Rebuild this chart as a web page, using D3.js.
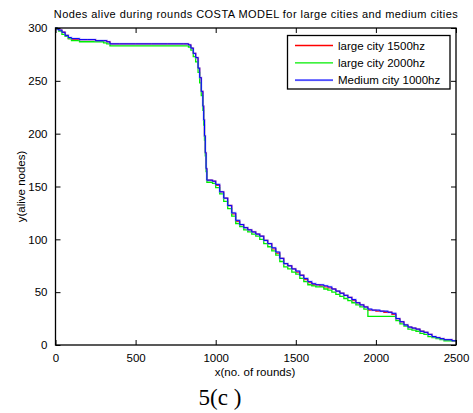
<!DOCTYPE html>
<html><head><meta charset="utf-8">
<script src="https://cdn.jsdelivr.net/npm/d3@7"></script>
<style>body{margin:0;background:#fff}svg{display:block}text{font-family:"Liberation Sans",Arial,sans-serif}</style>
</head><body>
<script>
const rounds = [0,10,20,40,60,80,100,150,200,250,300,320,340,400,500,600,700,800,830,845,860,875,890,900,910,920,925,930,935,940,945,960,980,1000,1025,1050,1075,1100,1125,1150,1175,1200,1225,1250,1275,1300,1325,1350,1375,1400,1425,1450,1475,1500,1525,1550,1575,1600,1625,1650,1675,1700,1725,1750,1775,1800,1825,1850,1875,1900,1925,1950,1975,2000,2025,2050,2075,2100,2125,2150,2175,2200,2225,2250,2275,2300,2325,2350,2375,2400,2425,2450,2475,2500];
const large1500 = [300,299,298,296,293,290,289,289,289,288,288,287,285,285,285,285,285,285,284,281,276,272,262,253,240,226,213,198,182,167,156,156,155,151,145,139,132,124,117,114,111,109,107,105,103,99,96,91,87,82,77,75,72,69,66,62,59,57,57,56,55,54,53,51,49,47,45,42,40,38,36,33,33,32,32,31,31,29,25,22,19,17,16,15,13,12,10,8,7,6,5,5,4,4];
const large2000 = [300,299,297,294,292,290,288,287,287,287,286,285,283,283,283,283,283,283,282,279,273,268,258,248,236,222,208,194,179,164,154,154,153,149,143,136,129,122,115,112,109,107,105,103,100,96,93,89,85,79,74,72,69,67,63,60,57,56,55,55,53,52,50,48,46,44,42,40,38,36,34,27,27,27,27,27,27,27,23,20,18,15,14,13,11,10,8,7,6,5,4,4,4,4];
const medium1000 = [300,299,298,296,293,291,290,289,289,288,288,287,285,285,285,285,285,285,284,281,276,272,262,253,240,226,213,198,182,167,156,156,155,152,145,139,132,125,118,114,111,109,107,105,103,99,96,92,88,82,77,75,72,70,66,63,60,58,57,57,56,55,53,51,49,47,45,43,40,38,36,34,33,33,32,32,31,30,25,22,19,17,16,15,13,12,10,8,7,6,5,5,4,4];
const xTicks = [0,500,1000,1500,2000,2500];
const yTicks = [0,50,100,150,200,250,300];
const seriesNames = ["large city 1500hz","large city 2000hz","Medium city 1000hz"];
const seriesColors = ["#ff0000","#00ee00","#0000ff"];
const titleText = "Nodes alive during rounds COSTA MODEL for large cities and medium cities";
const xLabel = "x(no. of rounds)";
const yLabel = "y(alive nodes)";
const caption = "5(c )";

const W=473,H=413;
const L=55.5,R=456,T=28,B=345;
const svg=d3.select("body").append("svg").attr("width",W).attr("height",H);
const x=d3.scaleLinear().domain([0,2500]).range([L,R]);
const y=d3.scaleLinear().domain([0,300]).range([B,T]);

const series=[large1500,large2000,medium1000];
const line=d3.line().x((d,i)=>x(rounds[i])).y(d=>y(d)).curve(d3.curveStepAfter);
const g=svg.append("g");
g.append("path").attr("d",line(series[0])).attr("fill","none").attr("stroke",seriesColors[0]).attr("stroke-width",1.3);
g.append("path").attr("d",line(series[1])).attr("fill","none").attr("stroke",seriesColors[1]).attr("stroke-width",1.3);
g.append("path").attr("d",line(series[2])).attr("fill","none").attr("stroke","#8c8cff").attr("stroke-width",2.2).attr("stroke-opacity",0.5);
g.append("path").attr("d",line(series[2])).attr("fill","none").attr("stroke",seriesColors[2]).attr("stroke-width",1);

const fmt=d3.format("d");
const ax=svg.append("g").attr("transform",`translate(0,${B})`).call(d3.axisBottom(x).tickValues(xTicks).tickFormat(fmt).tickSizeInner(-5).tickSizeOuter(0).tickPadding(9));
const ay=svg.append("g").attr("transform",`translate(${L},0)`).call(d3.axisLeft(y).tickValues(yTicks).tickFormat(fmt).tickSizeInner(-5).tickSizeOuter(0).tickPadding(8));
const axT=svg.append("g").attr("transform",`translate(0,${T})`).call(d3.axisTop(x).tickValues(xTicks).tickSizeInner(-5).tickSizeOuter(0).tickFormat(""));
const ayR=svg.append("g").attr("transform",`translate(${R},0)`).call(d3.axisRight(y).tickValues(yTicks).tickSizeInner(-5).tickSizeOuter(0).tickFormat(""));
[ax,ay,axT,ayR].forEach(a=>{a.select(".domain").remove();a.selectAll("line").attr("stroke","#000").attr("stroke-width",1);a.selectAll("text").attr("font-size",11.5).attr("font-family","Liberation Sans, Arial, sans-serif").attr("fill","#000");});
svg.append("rect").attr("x",L).attr("y",T).attr("width",R-L).attr("height",B-T).attr("fill","none").attr("stroke","#000").attr("stroke-width",1.3);

svg.append("text").attr("x",(L+R)/2).attr("y",18).attr("text-anchor","middle").attr("font-size",11).attr("textLength",404).attr("lengthAdjust","spacing").text(titleText);
svg.append("text").attr("x",255).attr("y",376).attr("text-anchor","middle").attr("font-size",11.5).text(xLabel);
svg.append("text").attr("transform",`translate(25,${(T+B)/2}) rotate(-90)`).attr("text-anchor","middle").attr("font-size",11.5).text(yLabel);
svg.append("text").attr("x",220).attr("y",405).attr("text-anchor","middle").attr("font-size",23).style("font-family","'Liberation Serif', serif").text(caption);

const lg=svg.append("g");
lg.append("rect").attr("x",287.5).attr("y",35.5).attr("width",162.5).attr("height",53.5).attr("fill","#fff").attr("stroke","#000").attr("stroke-width",1.3);
seriesNames.forEach((n,i)=>{
  const yy=45.5+i*17.3;
  if(i===2) lg.append("line").attr("x1",295).attr("x2",333).attr("y1",yy).attr("y2",yy).attr("stroke","#8c8cff").attr("stroke-width",2.2).attr("stroke-opacity",0.5);
  lg.append("line").attr("x1",295).attr("x2",333).attr("y1",yy).attr("y2",yy).attr("stroke",seriesColors[i]).attr("stroke-width",i===2?1:1.3);
  lg.append("text").attr("x",338).attr("y",yy+4).attr("font-size",11.5).text(n);
});
</script>
</body></html>
